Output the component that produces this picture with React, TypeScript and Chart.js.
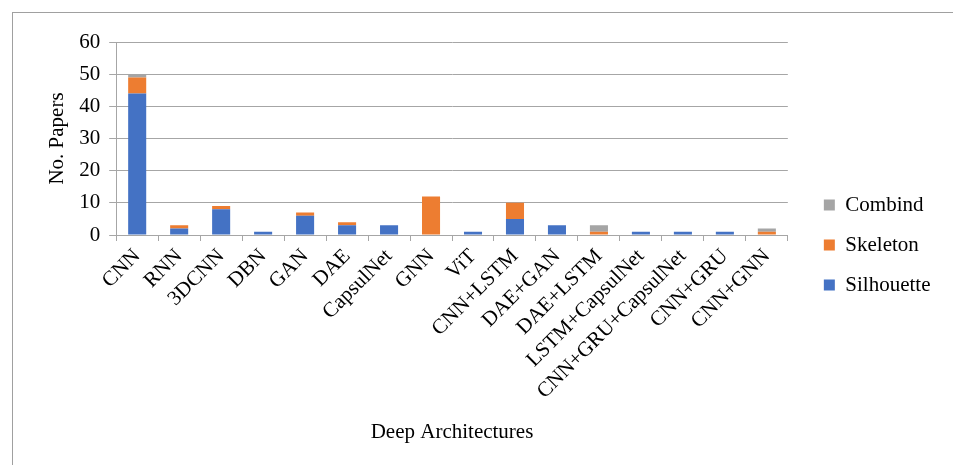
import React, { useEffect, useRef } from "react";
import { Chart, registerables } from "chart.js";

Chart.register(...registerables);

const categories = [
  "CNN", "RNN", "3DCNN", "DBN", "GAN", "DAE", "CapsulNet", "GNN", "ViT",
  "CNN+LSTM", "DAE+GAN", "DAE+LSTM", "LSTM+CapsulNet", "CNN+GRU+CapsulNet",
  "CNN+GRU", "CNN+GNN",
];
const silhouette = [44, 2, 8, 1, 6, 3, 3, 0, 1, 5, 3, 0, 1, 1, 1, 0];
const skeleton = [5, 1, 1, 0, 1, 1, 0, 12, 0, 5, 0, 1, 0, 0, 0, 1];
const combind = [1, 0, 0, 0, 0, 0, 0, 0, 0, 0, 0, 2, 0, 0, 0, 1];
const yMin = 0;
const yMax = 60;
const yStep = 10;

const FONT = '"Liberation Serif", "Times New Roman", serif';
const FS = 21;
const GRID = "#a6a6a6";

export default function App() {
  const ref = useRef<HTMLCanvasElement | null>(null);

  useEffect(() => {
    if (!ref.current) return;
    const chart = new Chart(ref.current, {
      type: "bar",
      data: {
        labels: categories,
        datasets: [
          { label: "Silhouette", data: silhouette, backgroundColor: "#4472C4" },
          { label: "Skeleton", data: skeleton, backgroundColor: "#ED7D31" },
          { label: "Combind", data: combind, backgroundColor: "#A5A5A5" },
        ],
      },
      options: {
        animation: false,
        responsive: false,
        maintainAspectRatio: false,
        layout: { padding: { top: 29, bottom: 17, left: 0, right: 12.5 } },
        datasets: { bar: { barPercentage: 1, categoryPercentage: 0.43 } },
        plugins: {
          tooltip: { enabled: false },
          legend: {
            position: "right",
            reverse: true,
            labels: {
              boxWidth: 11,
              boxHeight: 11,
              padding: 19,
              color: "#000",
              font: { family: FONT, size: FS },
            },
          },
        },
        scales: {
          x: {
            stacked: true,
            grid: {
              display: true,
              drawOnChartArea: false,
              drawTicks: true,
              tickLength: 6,
              offset: true,
              color: GRID,
            },
            border: { display: true, color: GRID },
            ticks: {
              autoSkip: false,
              minRotation: 45,
              maxRotation: 45,
              padding: 3,
              color: "#000",
              font: { family: FONT, size: FS },
            },
            title: {
              display: true,
              text: "Deep Architectures",
              color: "#000",
              font: { family: FONT, size: FS },
              padding: { top: 24, bottom: 3 },
            },
            afterFit: (s: any) => {
              s.height = 213;
            },
          },
          y: {
            stacked: true,
            min: yMin,
            max: yMax,
            grid: { color: GRID, tickLength: 7 },
            border: { display: true, color: GRID },
            ticks: {
              stepSize: yStep,
              padding: 9,
              color: "#000",
              font: { family: FONT, size: FS },
            },
            title: {
              display: true,
              text: "No. Papers",
              color: "#000",
              font: { family: FONT, size: FS },
              padding: { top: 32, bottom: 0 },
            },
          },
          spacer: {
            type: "linear",
            position: "right",
            display: true,
            grid: { display: false, drawTicks: false },
            border: { display: false },
            ticks: { display: false },
            afterFit: (s: any) => {
              s.width = 17;
            },
          },
        },
      } as any,
    });
    return () => chart.destroy();
  }, []);

  return (
    <div
      style={{
        position: "absolute",
        left: 12,
        top: 12,
        width: 941,
        height: 453,
        boxSizing: "border-box",
        borderTop: "1px solid #a0a0a0",
        borderLeft: "1px solid #a0a0a0",
        overflow: "hidden",
      }}
    >
      <canvas
        ref={ref}
        width={940}
        height={452}
        style={{ position: "absolute", left: 0, top: 0, width: 940, height: 452 }}
      />
    </div>
  );
}
